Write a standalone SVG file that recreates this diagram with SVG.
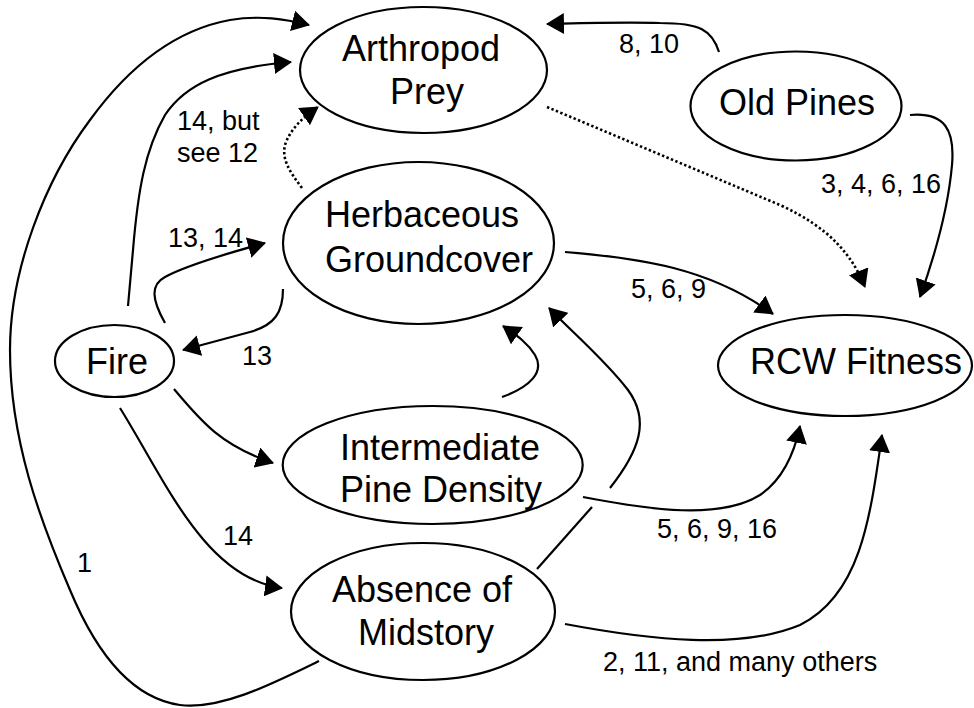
<svg xmlns="http://www.w3.org/2000/svg" width="974" height="708" viewBox="0 0 974 708">
<style>
.node{fill:#fff;stroke:#000;stroke-width:2.2}
.nt{font-family:"Liberation Sans",Arial,sans-serif;font-size:36px;fill:#000}
.lb{font-family:"Liberation Sans",Arial,sans-serif;font-size:27px;fill:#000}
.c{fill:none;stroke:#000;stroke-width:2.2}
.ca{marker-end:url(#ah)}
.dot{stroke-width:2.6;stroke-dasharray:2.4,2.4}
</style>
<defs>
<marker id="ah" markerUnits="userSpaceOnUse" markerWidth="18" markerHeight="21" refX="17" refY="10.5" orient="auto" viewBox="0 0 18 21">
<path d="M0,0 L18,10.5 L0,21 z" fill="#000"/>
</marker>
</defs>
<rect width="974" height="708" fill="#fff"/>
<g id="connectors">
<path class="c ca" d="M319,661 C 270,685 220,710 180,705 C 130,698 95,650 70,590 C 40,520 10,440 10,350 C 10,270 45,180 90,120 C 130,65 175,30 230,20 C 260,15 285,19 309,25"/>
<path class="c ca" d="M128,306 L133,250 C 138,190 145,150 165,115 C 185,85 220,68 291,62"/>
<path class="c ca dot" d="M302,188 C 290,172 280,158 286,142 C 292,128 302,118 318,107"/>
<path class="c ca" d="M165,323 C 152,300 150,285 165,277 C 185,266 225,254 265,243"/>
<path class="c ca" d="M283,289 C 283,312 275,325 250,332 L 183,350"/>
<path class="c ca" d="M174,389 C 200,420 220,445 273,463"/>
<path class="c ca" d="M120,408 C 165,480 205,578 282,588"/>
<path class="c ca" d="M719,52 C 712,30 700,23 660,23 C 620,22 590,23 547,24"/>
<path class="c ca dot" d="M547,107 L 780,205 C 830,228 852,255 865,287"/>
<path class="c ca" d="M910,115 C 945,112 955,130 952,165 C 948,210 935,255 920,297"/>
<path class="c ca" d="M565,252 C 640,258 710,268 773,314"/>
<path class="c ca" d="M502,397 C 530,387 545,372 535,355 C 527,342 516,335 503,326"/>
<path class="c" d="M537,569 L 592,507"/>
<path class="c ca" d="M610,488 C 640,450 650,420 628,390 C 605,360 575,335 549,308"/>
<path class="c ca" d="M583,497 C 650,510 720,520 760,495 C 785,478 795,450 800,426"/>
<path class="c ca" d="M565,624 C 650,640 740,650 800,625 C 860,595 870,520 882,435"/>
</g>
<g id="labels">
<text class="lb" x="177" y="130">14, but</text>
<text class="lb" x="177" y="162">see 12</text>
<text class="lb" x="168" y="247">13, 14</text>
<text class="lb" x="242" y="365">13</text>
<text class="lb" x="223" y="545">14</text>
<text class="lb" x="77" y="572">1</text>
<text class="lb" x="619" y="53">8, 10</text>
<text class="lb" x="821" y="193">3, 4, 6, 16</text>
<text class="lb" x="631" y="298">5, 6, 9</text>
<text class="lb" x="657" y="538">5, 6, 9, 16</text>
<text class="lb" x="603" y="671">2, 11, and many others</text>
</g>
<g id="arthropod">
<ellipse class="node" cx="423.5" cy="70" rx="123.5" ry="63"/>
<text class="nt" x="342" y="61">Arthropod</text>
<text class="nt" x="390" y="104">Prey</text>
</g>
<g id="oldpines">
<ellipse class="node" cx="796" cy="106" rx="105.5" ry="54.5"/>
<text class="nt" x="719" y="115">Old Pines</text>
</g>
<g id="herbaceous">
<ellipse class="node" cx="418.5" cy="243" rx="135.5" ry="81"/>
<text class="nt" x="325" y="227">Herbaceous</text>
<text class="nt" x="325" y="272">Groundcover</text>
</g>
<g id="fire">
<ellipse class="node" cx="114.5" cy="361" rx="59.5" ry="36"/>
<text class="nt" x="86" y="374">Fire</text>
</g>
<g id="rcw">
<ellipse class="node" cx="845" cy="365.5" rx="127" ry="50.5"/>
<text class="nt" x="750" y="374">RCW Fitness</text>
</g>
<g id="intermediate">
<ellipse class="node" cx="432.7" cy="465" rx="150" ry="59"/>
<text class="nt" x="340" y="460">Intermediate</text>
<text class="nt" x="340" y="502">Pine Density</text>
</g>
<g id="absence">
<ellipse class="node" cx="423" cy="611.5" rx="132" ry="68.5"/>
<text class="nt" x="332" y="602">Absence of</text>
<text class="nt" x="358" y="645">Midstory</text>
</g>
</svg>
